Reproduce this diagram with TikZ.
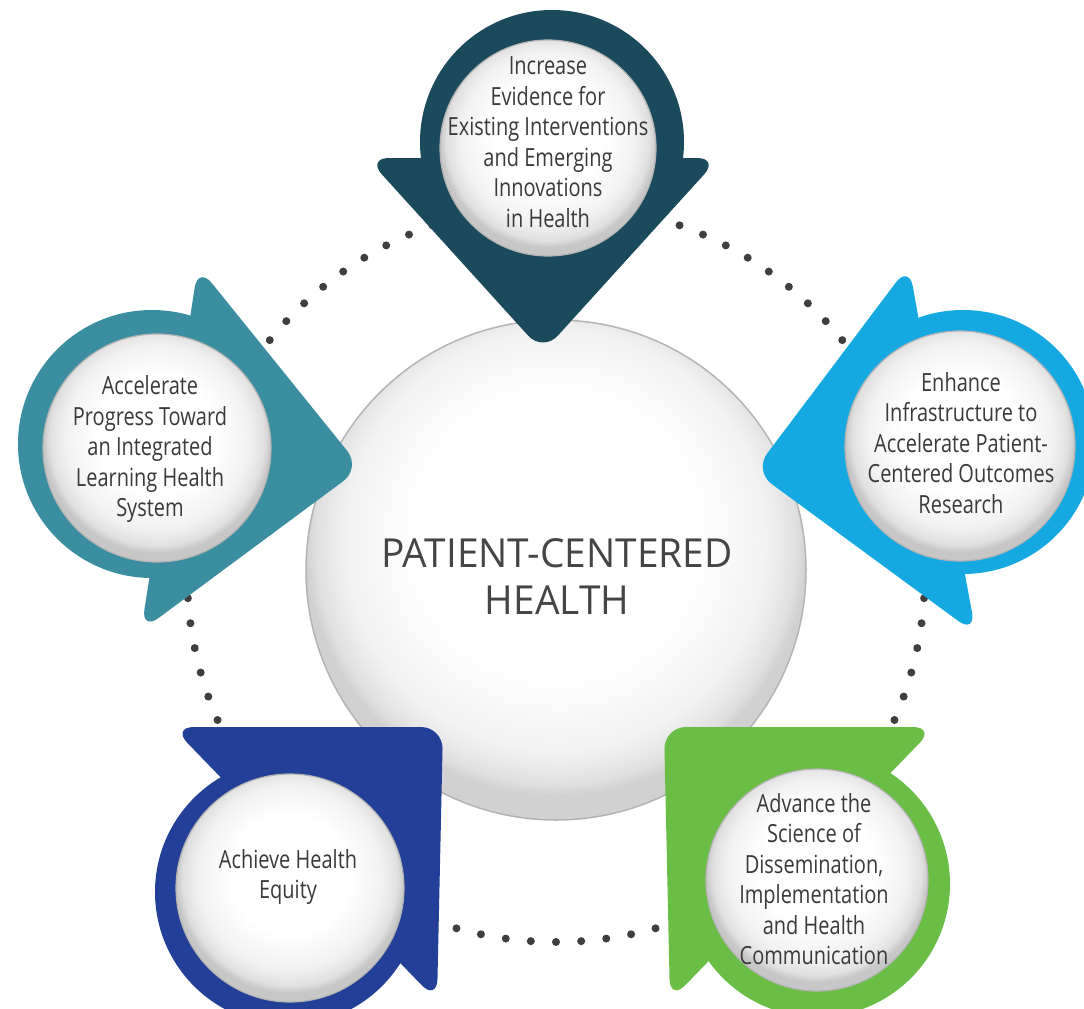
\documentclass[tikz,border=0pt]{standalone}
\usepackage{fontspec}
\setmainfont{Open Sans}
\newfontfamily\labelfont{Open Sans}[FakeStretch=0.8]
\newfontfamily\titlefont{Open Sans}[FakeStretch=0.97]
\definecolor{topc}{HTML}{1A4A5C}
\definecolor{leftc}{HTML}{3A8EA0}
\definecolor{rightc}{HTML}{16A9E1}
\definecolor{blc}{HTML}{243F97}
\definecolor{brc}{HTML}{6ABD45}
\definecolor{dotc}{HTML}{3F3F3F}
\definecolor{txtc}{HTML}{3A3A3A}
\definecolor{ttlc}{HTML}{454545}
\definecolor{rimc}{HTML}{B4B4B4}
\pgfdeclareradialshading{ball}{\pgfpoint{0bp}{4bp}}{color(0bp)=(white); color(13bp)=(white); color(20bp)=(black!5); color(23.5bp)=(black!12); color(25bp)=(black!22); color(50bp)=(black!22)}
\pgfdeclareradialshading{mainball}{\pgfpoint{0bp}{5bp}}{color(0bp)=(white); color(14bp)=(white); color(21bp)=(black!5); color(24bp)=(black!12); color(25bp)=(black!18); color(50bp)=(black!18)}
\tikzset{
  ballnode/.style={circle, inner sep=0pt, shading=ball, draw=rimc, line width=1.2pt, minimum size=#1},
  lbl/.style={align=center, font=\labelfont\fontsize{25}{30.5}\selectfont, text=txtc, inner sep=0pt},
  ttl/.style={align=center, font=\titlefont\fontsize{40}{47}\selectfont, text=ttlc, inner sep=0pt},
  pdot/.style={fill=dotc},
}
\begin{document}
\begin{tikzpicture}[x=1pt,y=-1pt]
\useasboundingbox (0,0) rectangle (1084,1009);
\clip (0,0) rectangle (1084,1009);
\fill[white] (0,0) rectangle (1084,1009);
% dotted ring
\foreach \k in {0,...,91}{
  \fill[pdot, shift={(556,573)}] ({90+\k*3.91304}:369) circle (4);
}
% central circle
\node[circle, inner sep=0pt, minimum size=500pt, shading=mainball, draw=rimc, line width=1.5pt] (center) at (556,570) {};
\node[ttl] (title) at (557,577) {PATIENT-CENTERED\\HEALTH};
% top shape
\fill[topc] (552,142) circle (132);
\fill[topc, rounded corners=22pt] (543,158) -- (719,158) -- (543,352) -- (367,158) -- cycle;
\node[ballnode=216pt] (topball) at (548,148) {};
\node[lbl] (toplbl) at (548,142) {Increase\\Evidence for\\Existing Interventions\\and Emerging\\Innovations\\in Health};
% left shape
\fill[leftc] (152,444) circle (134);
\fill[leftc, rounded corners=22pt] (170,448) -- (198,266) -- (361,468) -- (141,631) -- cycle;
\node[ballnode=228pt] (leftball) at (157,448) {};
\node[lbl] (leftlbl) at (150,449) {Accelerate\\Progress Toward\\an Integrated\\Learning Health\\System};
% right shape
\fill[rightc] (963,442) circle (132);
\fill[rightc, rounded corners=22pt] (942,450) -- (976,634) -- (754,471) -- (909,265) -- cycle;
\node[ballnode=230pt] (rightball) at (960,446) {};
\node[lbl] (rightlbl) at (961,443) {Enhance\\Infrastructure to\\Accelerate Patient-\\Centered Outcomes\\Research};
% bottom-left shape
\fill[blc] (288,892) circle (133);
\fill[blc, rounded corners=22pt] (305,727) -- (443,727) -- (437,1001) -- (172,727) -- cycle;
\node[ballnode=228pt] (blball) at (290,888) {};
\node[lbl] (bllbl) at (288,877) {Achieve Health\\Equity};
% bottom-right shape
\fill[brc] (817,884) circle (133);
\fill[brc, rounded corners=22pt] (800,727) -- (935,727) -- (670,1001) -- (664,727) -- cycle;
\node[ballnode=222pt] (brball) at (817,880) {};
\node[lbl] (brlbl) at (814,879) {Advance the\\Science of\\Dissemination,\\Implementation\\and Health\\Communication};
\end{tikzpicture}
\end{document}
